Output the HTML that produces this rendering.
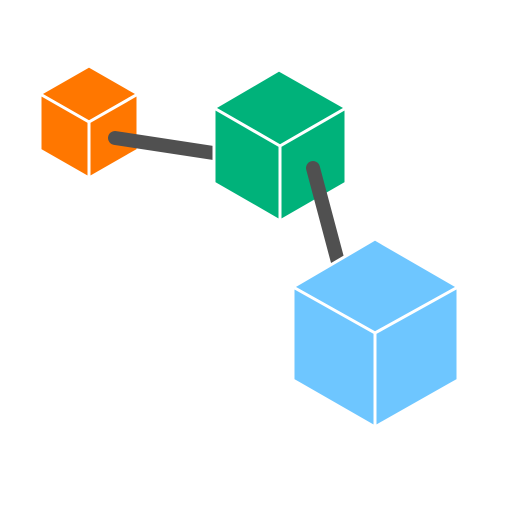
<!DOCTYPE html>
<html><head><style>html,body{margin:0;padding:0;background:#fff;}</style></head>
<body>
<svg width="512" height="512" viewBox="0 0 512 512" xmlns="http://www.w3.org/2000/svg">
<g stroke="#fff" stroke-width="3" stroke-linejoin="round">
<g fill="#FF7700">
<polygon points="89,66 138,94 89,122 40,94"/>
<polygon points="40,94 89,122 89,178 40,150"/>
<polygon points="138,94 89,122 89,178 138,150"/>
</g>
</g>
<line x1="115" y1="138" x2="220" y2="154" stroke="#505050" stroke-width="14" stroke-linecap="round"/>
<g stroke="#fff" stroke-width="3" stroke-linejoin="round">
<g fill="#00B27A">
<polygon points="279,70 346,108 280,146 214,108"/>
<polygon points="214,108 280,146 280,221 214,183"/>
<polygon points="346,108 280,146 280,221 346,183"/>
</g>
</g>
<line x1="313" y1="168" x2="338" y2="262" stroke="#505050" stroke-width="14" stroke-linecap="round"/>
<g stroke="#fff" stroke-width="3" stroke-linejoin="round">
<g fill="#6EC6FF">
<polygon points="375,239 458,287 375,333 293,287"/>
<polygon points="293,287 375,333 375,427 293,380"/>
<polygon points="458,287 375,333 375,427 458,380"/>
</g>
</g>
</svg>
</body></html>
